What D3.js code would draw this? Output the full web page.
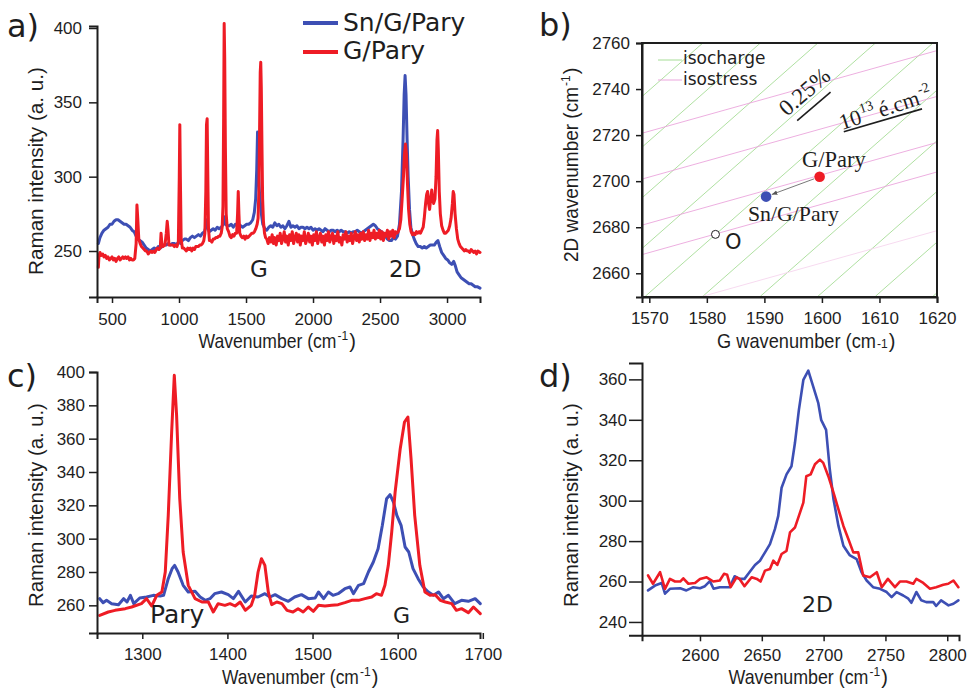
<!DOCTYPE html>
<html>
<head>
<meta charset="utf-8">
<script src="https://cdn.jsdelivr.net/npm/d3@7"></script>
<style>
body { margin: 0; background: #fff; }
svg { display: block; }
</style>
</head>
<body>
<svg id="fig" width="969" height="688"></svg>
<script>
// ---- panel a : full spectra (wavenumber, intensity)
var aBlue = [[398,255],[410,259],[425,262],[440,264],[455,265],[470,266],[485,268],[500,268],[515,270],[530,271],[545,271],[560,270],[575,269],[590,268],[605,268],[620,267],[635,266],[650,264],[665,263],[680,260],[695,258],[710,257],[725,256],[740,254],[755,252],[770,251],[785,250],[800,251],[815,252],[830,251],[845,253],[860,252],[875,253],[890,254],[905,254],[920,255],[935,254],[950,255],[965,255],[980,254],[995,256],[1005,259],[1012,255],[1025,257],[1040,258],[1055,258],[1070,257],[1085,259],[1100,260],[1115,259],[1130,260],[1145,261],[1160,260],[1175,262],[1190,263],[1200,266],[1208,271],[1215,266],[1225,263],[1240,264],[1255,265],[1270,264],[1285,266],[1300,265],[1315,266],[1330,268],[1338,273],[1346,268],[1360,267],[1375,267],[1390,268],[1405,266],[1420,268],[1435,267],[1445,268],[1460,267],[1475,266],[1490,267],[1505,268],[1520,268],[1535,269],[1550,271],[1562,276],[1572,285],[1580,305],[1586,330],[1592,305],[1600,290],[1608,282],[1616,274],[1625,268],[1640,265],[1655,264],[1670,266],[1685,267],[1700,266],[1715,269],[1730,267],[1745,268],[1760,266],[1775,267],[1790,265],[1805,267],[1820,270],[1835,266],[1850,267],[1865,266],[1880,267],[1895,265],[1910,266],[1925,266],[1940,265],[1955,266],[1970,265],[1985,266],[2000,264],[2015,265],[2030,264],[2045,265],[2060,264],[2075,263],[2090,265],[2105,264],[2120,263],[2135,264],[2150,264],[2165,263],[2180,264],[2195,263],[2210,264],[2225,263],[2240,263],[2255,262],[2270,263],[2285,262],[2300,263],[2315,263],[2330,264],[2345,263],[2360,262],[2375,263],[2390,264],[2405,265],[2420,266],[2435,267],[2450,268],[2465,267],[2480,265],[2495,264],[2510,263],[2525,262],[2540,260],[2555,258],[2570,257],[2585,257],[2600,259],[2615,258],[2630,260],[2645,268],[2660,290],[2672,325],[2680,355],[2687,368],[2694,355],[2702,325],[2710,300],[2720,278],[2730,266],[2740,262],[2755,258],[2770,255],[2785,253],[2800,253],[2815,252],[2830,253],[2845,252],[2860,253],[2875,254],[2890,254],[2905,254],[2920,256],[2932,257],[2945,253],[2960,249],[2975,247],[2990,245],[3005,244],[3020,242],[3035,241],[3050,243],[3062,240],[3075,236],[3090,234],[3105,232],[3120,231],[3135,230],[3150,229],[3165,228],[3180,228],[3195,227],[3210,226],[3225,226],[3246,225]];
var aRed = [[398,239],[403,247],[410,249],[420,247],[430,248],[440,246],[450,247],[460,245],[470,246],[480,244],[490,245],[500,246],[510,244],[520,245],[530,243],[540,245],[550,246],[560,244],[570,245],[580,246],[590,245],[600,246],[610,245],[620,246],[630,244],[640,245],[650,244],[660,244],[670,245],[680,255],[686,281],[692,272],[700,258],[710,255],[720,253],[730,252],[740,251],[750,250],[760,250],[770,248],[780,249],[790,250],[800,249],[810,250],[820,249],[830,251],[840,252],[850,251],[860,252],[866,262],[872,255],[880,253],[895,254],[905,262],[912,270],[918,264],[925,254],[935,254],[945,254],[955,254],[965,253],[975,254],[985,253],[995,256],[1002,300],[1006,335],[1010,300],[1016,258],[1025,252],[1035,252],[1045,251],[1055,250],[1065,252],[1075,251],[1085,252],[1095,250],[1105,252],[1115,251],[1125,253],[1135,253],[1145,253],[1155,254],[1165,254],[1175,255],[1185,257],[1193,262],[1200,290],[1205,335],[1210,339],[1215,300],[1220,265],[1227,257],[1235,257],[1245,256],[1255,258],[1265,258],[1275,259],[1285,259],[1295,260],[1305,260],[1315,262],[1322,266],[1328,280],[1333,340],[1337,403],[1341,380],[1346,320],[1352,275],[1360,265],[1370,263],[1380,260],[1390,259],[1400,261],[1410,260],[1420,262],[1430,262],[1437,275],[1442,290],[1447,275],[1453,262],[1463,260],[1473,259],[1483,260],[1493,258],[1503,260],[1513,259],[1523,260],[1533,261],[1543,262],[1553,262],[1563,263],[1573,265],[1583,268],[1590,272],[1596,290],[1601,330],[1606,370],[1610,377],[1614,360],[1619,320],[1624,285],[1630,270],[1638,262],[1646,259],[1655,258],[1665,255],[1675,259],[1685,256],[1695,261],[1705,255],[1715,259],[1725,254],[1735,260],[1745,257],[1755,262],[1765,255],[1775,258],[1785,263],[1795,256],[1805,260],[1815,254],[1825,261],[1835,257],[1845,263],[1855,255],[1865,259],[1875,262],[1885,256],[1895,261],[1905,254],[1915,260],[1925,257],[1935,263],[1945,255],[1955,258],[1965,262],[1975,256],[1985,260],[1995,254],[2005,261],[2015,257],[2025,263],[2035,255],[2045,259],[2055,262],[2065,256],[2075,260],[2085,254],[2095,261],[2105,257],[2115,263],[2125,256],[2135,259],[2145,262],[2155,255],[2165,260],[2175,257],[2185,263],[2195,256],[2205,259],[2215,254],[2225,261],[2235,258],[2245,263],[2255,256],[2265,260],[2275,257],[2285,262],[2295,255],[2305,259],[2315,263],[2325,257],[2335,261],[2345,256],[2355,262],[2365,258],[2375,263],[2385,257],[2395,261],[2405,258],[2415,264],[2425,257],[2435,262],[2445,259],[2455,264],[2465,258],[2475,262],[2485,259],[2495,264],[2505,258],[2515,263],[2525,257],[2535,262],[2545,260],[2555,264],[2565,258],[2575,263],[2585,260],[2595,264],[2605,259],[2615,263],[2625,262],[2635,263],[2645,265],[2655,271],[2665,285],[2675,300],[2682,315],[2690,322],[2697,315],[2705,295],[2713,278],[2722,268],[2732,263],[2742,261],[2752,262],[2762,261],[2772,263],[2782,262],[2792,263],[2802,262],[2812,264],[2822,266],[2830,272],[2840,282],[2848,288],[2855,290],[2862,282],[2870,278],[2878,285],[2886,291],[2893,285],[2900,282],[2910,285],[2918,300],[2925,325],[2930,331],[2935,318],[2942,290],[2950,275],[2960,267],[2970,264],[2980,262],[2990,262],[3000,263],[3010,264],[3020,267],[3030,272],[3040,282],[3046,290],[3052,288],[3060,275],[3070,265],[3080,258],[3090,255],[3100,253],[3110,252],[3120,251],[3130,250],[3140,251],[3150,250],[3160,250],[3170,249],[3180,251],[3190,250],[3200,249],[3210,250],[3220,248],[3230,250],[3246,249]];
var aXTicks = [500, 1000, 1500, 2000, 2500, 3000];
var aYTicks = [250, 300, 350, 400];

// ---- panel b : G vs 2D positions
var bNames = ["G/Pary", "Sn/G/Pary", "O"];
var bG = [1599.6, 1590.3, 1581.5];
var bD = [2701.9, 2693.3, 2676.9];
var isochargeG = [1519.3, 1529.3, 1539.3, 1549.3, 1559.3, 1569.3, 1579.3, 1589.3, 1599.3, 1609.3, 1619.3]; // G at 2D = 2650
var isostressD = [2721.7, 2701.8, 2681.8, 2669.0]; // 2D at G = 1570
var isostressFaint = [2643.5];
var strainSeg = [[1595.7, 2726.3], [1601.5, 2738.7]];
var dopingSeg = [[1603.8, 2721.5], [1617.4, 2731.4]];
var bXTicks = [1570, 1580, 1590, 1600, 1610, 1620];
var bYTicks = [2660, 2680, 2700, 2720, 2740, 2760];

// ---- panel c : Pary + G region
var cBlue = [[1250,264],[1254,261.6],[1258,263],[1264,261],[1272,260.4],[1278,264],[1282,262],[1286,266],[1290,261],[1297,264.4],[1305,265],[1313,266],[1321,265.6],[1325,266],[1330.5,276],[1335,282],[1338,284],[1342,280],[1348,272],[1354,268],[1362,268.4],[1368,265],[1374,263],[1379.5,264],[1385,267],[1393,268],[1401,266.4],[1407,264],[1413,268.4],[1421,262],[1428,265.6],[1436,265],[1444,267],[1450,265],[1456,266.4],[1464,264],[1471.5,262.4],[1479,265],[1487,266.4],[1495,264],[1503,264.4],[1507,268],[1513,264],[1518.6,268],[1524,266],[1530,267],[1538,270],[1544,271],[1548,267],[1554,272],[1560,273],[1565.6,280],[1571.4,286],[1577,294],[1582,308],[1587,324],[1591,326.4],[1595,322],[1599,314],[1604,308],[1608.7,295],[1613,292],[1618,282],[1624,276],[1630,271],[1636,268],[1642,266],[1648,268],[1653.7,264],[1659.6,266],[1667,261],[1675,263],[1683,262.4],[1691,264],[1697,261]];
var cRed = [[1250,254],[1260,256],[1268,257],[1280,258],[1287.5,259],[1299,261],[1305,264],[1311,259.6],[1317,266],[1323,268],[1327,280],[1330.5,314],[1334.5,364],[1337.6,398],[1340.3,374],[1344,324],[1348,292],[1354,272],[1362,264],[1370,262],[1377.6,262],[1383.4,256],[1389,261],[1397,260],[1403,261],[1409,259.6],[1415,262],[1421,257],[1428,260],[1432,266],[1436,280],[1440,288],[1444,284],[1448,268],[1452,260.4],[1458,262],[1464,261],[1470,257],[1477,256],[1483,258],[1489,256],[1495,259],[1501,256.4],[1507,260],[1514.6,259.6],[1522.5,260],[1530,260.4],[1538,261.6],[1546,263],[1554,263],[1561.6,264],[1569.5,265],[1575,267],[1581,266],[1585,272],[1589,284],[1593,304],[1597,328],[1603,354],[1608,370],[1612,373],[1615.7,348],[1620,314],[1626,284],[1632,268],[1638,266],[1644,266.4],[1650,263],[1656,262],[1663.5,261],[1669,257],[1675,258],[1683,255.6],[1689,259],[1697,255]];
var cXTicks = [1300, 1400, 1500, 1600, 1700];
var cYTicks = [260, 280, 300, 320, 340, 360, 380, 400];

// ---- panel d : 2D region
var dBlue = [[2558,255.6],[2563.6,258],[2569,259.3],[2571.7,254],[2575.7,256.4],[2584,256.7],[2589,255.6],[2594.6,257.2],[2600,256.7],[2604,257.7],[2608,260.2],[2611,256.4],[2616,257.2],[2624,257.2],[2628,262.6],[2632,261.3],[2636,261.3],[2640,264.6],[2644.5,268.2],[2648.5,270.3],[2652.6,274.4],[2656.6,278.5],[2660.6,285.9],[2663.3,292.5],[2666,306.4],[2670,313],[2674,317],[2676.8,328.5],[2680,344.9],[2683.6,359.7],[2687.6,364.3],[2691.6,356.4],[2695.7,348.2],[2698,340],[2702,335],[2705,315.4],[2708,300.7],[2712,287.5],[2716,277.7],[2721,273.1],[2726.7,271.1],[2730.7,264.6],[2734.8,260.5],[2740,257.2],[2745.6,256.4],[2751,254.8],[2755,252.3],[2759,254.8],[2764.4,253.1],[2768.5,251.5],[2771,249.5],[2775,254.8],[2779,250.7],[2783,249.8],[2788.7,249.8],[2791,247.9],[2795,250.7],[2801,248.2],[2805,249],[2809,250.7]];
var dRed = [[2558,263],[2562,258.9],[2567.7,264.6],[2571.7,256.4],[2575.7,261.3],[2579.8,260],[2584,260],[2586.5,261.6],[2590.6,258.9],[2596,259.3],[2600,261.3],[2605.4,262.1],[2610.8,260],[2616,260.5],[2619.4,263.8],[2622,263.3],[2624.8,257.2],[2629.6,262.1],[2632,261.3],[2636,257.7],[2641.8,262.1],[2646,261.3],[2649,260],[2652.6,265.4],[2656.6,266.2],[2659.3,270.3],[2662.5,268.2],[2666,273.6],[2670,275.2],[2672.8,284.3],[2676.8,286.7],[2680,292.5],[2683.6,299],[2686,312.1],[2689.5,313],[2693,318],[2697,320.3],[2699.7,318.7],[2703.8,312.1],[2708,304],[2712,295.7],[2716,287.5],[2720,281],[2724,274.4],[2728,274.4],[2732,263],[2737.5,262.1],[2743,264.6],[2747,257.2],[2752,261.3],[2757.7,257.2],[2761.7,260],[2767,260],[2772.5,258.9],[2775,261.3],[2780.6,259.3],[2786,256.4],[2791,257.2],[2796.8,258.4],[2800.8,258.9],[2805,260.5],[2809,257.2]];
var dXTicks = [2600, 2650, 2700, 2750, 2800];
var dYTicks = [240, 260, 280, 300, 320, 340, 360];

var BLUE = "#3d4fb4", RED = "#ee1c25", INK = "#1e1e1e";
var svg = d3.select("#fig");

function styleAxis(g, fs) {
    g.select(".domain").attr("stroke", INK).attr("stroke-width", 2);
    g.selectAll(".tick line").attr("stroke", INK).attr("stroke-width", 1.5);
    g.selectAll(".tick text").attr("fill", INK).attr("font-size", fs)
        .attr("font-family", "Liberation Sans, Arial, sans-serif");
}

function axes(x, y, xt, yt, o) {
    var gx = svg.append("g").attr("transform", "translate(0," + y.range()[0] + ")")
        .call(d3.axisBottom(x).tickValues(xt).tickFormat(d3.format("d"))
            .tickSizeOuter(0).tickSize(o.xs).tickPadding(o.xp));
    styleAxis(gx, 17);
    var gy = svg.append("g").attr("transform", "translate(" + x.range()[0] + ",0)")
        .call(d3.axisLeft(y).tickValues(yt).tickFormat(d3.format("d"))
            .tickSizeOuter(0).tickSize(o.ys).tickPadding(o.yp));
    styleAxis(gy, 17);
}

function spectrum(x, y, data, color, w) {
    var line = d3.line().x(function(d){ return x(d[0]); }).y(function(d){ return y(d[1]); });
    svg.append("path").datum(data).attr("d", line).attr("fill", "none")
        .attr("stroke", color).attr("stroke-width", w)
        .attr("stroke-linejoin", "round").attr("stroke-linecap", "round");
}

function label(txt, x, y, size, fam, anchor) {
    return svg.append("text").attr("x", x).attr("y", y).attr("font-size", size)
        .attr("font-family", fam || "DejaVu Sans").attr("fill", INK)
        .attr("text-anchor", anchor || "start").text(txt);
}

// axis title: horizontally squeezed main part, then a small exponent and ")"
function title(pre, sup, x, y, len, rot, lowSup) {
    var g = svg.append("g").attr("font-family", "Liberation Sans").attr("fill", INK)
        .attr("transform", "translate(" + x + "," + y + ")" + (rot ? " rotate(-90)" : ""));
    var x0 = -len / 2, tail = sup ? 19 : 0;
    var m = g.append("text").attr("font-size", 20).text(pre);
    var k = (len - tail) / m.node().getComputedTextLength();
    m.attr("transform", "translate(" + x0 + ",0) scale(" + k + ",1)");
    if (!sup) return;
    var s = g.append("text").attr("x", x0 + len - tail + 1).attr("y", lowSup ? 0 : -8)
        .attr("font-size", 12).text(sup);
    var sw = s.node().getComputedTextLength();
    g.append("text").attr("x", x0 + len - tail + 2 + sw).attr("font-size", 20)
        .attr("transform", "scale(1,1)").text(")");
}

// ================= panel a
var xa = d3.scaleLinear().domain([388, 3246]).range([97, 480]);
var ya = d3.scaleLinear().domain([219.06, 401.35]).range([297, 26]);
spectrum(xa, ya, aBlue, BLUE, 3);
spectrum(xa, ya, aRed, RED, 3);
axes(xa, ya, aXTicks, aYTicks, {xs: 6, xp: 10, ys: 8, yp: 7});
label("a)", 7, 37, 32);
label("G", 250, 277, 23);
label("2D", 389, 277, 23);
svg.append("line").attr("x1", 303).attr("x2", 338).attr("y1", 23).attr("y2", 23).attr("stroke", BLUE).attr("stroke-width", 4);
svg.append("line").attr("x1", 303).attr("x2", 338).attr("y1", 52).attr("y2", 52).attr("stroke", RED).attr("stroke-width", 4);
label("Sn/G/Pary", 343, 31, 25);
label("G/Pary", 343, 59, 25);
title("Wavenumber (cm", "-1", 277, 348, 157, false);
title("Raman intensity (a. u.)", "", 43, 171, 208, true);

// ================= panel b
var xb = d3.scaleLinear().domain([1568.73, 1620]).range([642, 937]);
var yb = d3.scaleLinear().domain([2649.7, 2760]).range([297, 43]);
svg.append("clipPath").attr("id", "bclip").append("rect")
    .attr("x", 642).attr("y", 43).attr("width", 295).attr("height", 254);
var lines = svg.append("g").attr("clip-path", "url(#bclip)");
isochargeG.forEach(function(g0) {
    lines.append("line").attr("x1", xb(g0)).attr("y1", yb(2650))
        .attr("x2", xb(g0 + 110 / 2.2)).attr("y2", yb(2760))
        .attr("stroke", "#a6dd96").attr("stroke-width", 0.9);
});
isostressD.forEach(function(d0) {
    lines.append("line").attr("x1", xb(1568)).attr("y1", yb(d0 - 0.7 * 2))
        .attr("x2", xb(1621)).attr("y2", yb(d0 + 0.7 * 51))
        .attr("stroke", "#eba6dd").attr("stroke-width", 0.9);
});
isostressFaint.forEach(function(d0) {
    lines.append("line").attr("x1", xb(1568)).attr("y1", yb(d0 - 0.7 * 2))
        .attr("x2", xb(1621)).attr("y2", yb(d0 + 0.7 * 51))
        .attr("stroke", "#f6d6ee").attr("stroke-width", 0.9);
});
svg.append("rect").attr("x", 642).attr("y", 43).attr("width", 295).attr("height", 254)
    .attr("fill", "none").attr("stroke", INK).attr("stroke-width", 2);
axes(xb, yb, bXTicks, bYTicks, {xs: 6, xp: 9, ys: 6, yp: 6});
label("b)", 539, 36, 32);

// legend
svg.append("line").attr("x1", 658).attr("x2", 682).attr("y1", 60).attr("y2", 60).attr("stroke", "#a6dd96").attr("stroke-width", 1);
svg.append("line").attr("x1", 658).attr("x2", 682).attr("y1", 80).attr("y2", 80).attr("stroke", "#eba6dd").attr("stroke-width", 1);
label("isocharge", 683, 64, 17);
label("isostress", 683, 85, 17);

// scale segments
[strainSeg, dopingSeg].forEach(function(s) {
    svg.append("line").attr("x1", xb(s[0][0])).attr("y1", yb(s[0][1]))
        .attr("x2", xb(s[1][0])).attr("y2", yb(s[1][1]))
        .attr("stroke", INK).attr("stroke-width", 1.6);
});
svg.append("text").attr("transform", "translate(787,117) rotate(-41)")
    .attr("font-family", "Liberation Serif").attr("font-size", 23).attr("fill", INK).text("0.25%");
var dop = svg.append("g").attr("transform", "translate(842,130) rotate(-18)")
    .attr("font-family", "Liberation Serif").attr("fill", INK);
var t10 = dop.append("text").attr("font-size", 22).text("10");
var p1 = t10.node().getComputedTextLength() + 1;
var t13 = dop.append("text").attr("x", p1).attr("y", -10).attr("font-size", 14).text("13");
var p2 = p1 + t13.node().getComputedTextLength() + 4;
var tcm = dop.append("text").attr("x", p2).attr("font-size", 22).text("é.cm");
dop.append("text").attr("x", p2 + tcm.node().getComputedTextLength() + 1).attr("y", -10)
    .attr("font-size", 14).text("-2");

// arrow red -> blue
svg.append("defs").append("marker").attr("id", "arr").attr("viewBox", "0 0 10 10")
    .attr("refX", 10).attr("refY", 5).attr("markerWidth", 7).attr("markerHeight", 7)
    .attr("orient", "auto").append("path").attr("d", "M0,1 L10,5 L0,9 z").attr("fill", "#555");
var ax0 = xb(bG[0]), ay0 = yb(bD[0]), ax1 = xb(bG[1]), ay1 = yb(bD[1]);
var len = Math.hypot(ax1 - ax0, ay1 - ay0), ux = (ax1 - ax0) / len, uy = (ay1 - ay0) / len;
svg.append("line").attr("x1", ax0 + ux * 6).attr("y1", ay0 + uy * 6)
    .attr("x2", ax1 - ux * 6).attr("y2", ay1 - uy * 6)
    .attr("stroke", "#555").attr("stroke-width", 0.8).attr("marker-end", "url(#arr)");

svg.append("circle").attr("cx", xb(bG[0])).attr("cy", yb(bD[0])).attr("r", 5.3).attr("fill", RED);
svg.append("circle").attr("cx", xb(bG[1])).attr("cy", yb(bD[1])).attr("r", 5.3).attr("fill", BLUE);
svg.append("circle").attr("cx", xb(bG[2])).attr("cy", yb(bD[2])).attr("r", 4).attr("fill", "#fff")
    .attr("stroke", INK).attr("stroke-width", 1);
label(bNames[0], 802, 167, 22.5, "Liberation Serif");
label(bNames[1], 748, 221, 21.8, "Liberation Serif");
label(bNames[2], 725, 249, 21);
title("G  wavenumber (cm", "-1", 806, 348, 178, false, true);
title("2D wavenumber (cm", "-1", 578, 165, 194, true);

// ================= panel c
var xc = d3.scaleLinear().domain([1246.8, 1696.7]).range([97, 480]);
var yc = d3.scaleLinear().domain([243.4, 400]).range([633, 372]);
spectrum(xc, yc, cBlue, BLUE, 3);
spectrum(xc, yc, cRed, RED, 3);
axes(xc, yc, cXTicks, cYTicks, {xs: 6, xp: 9, ys: 8, yp: 4});
label("c)", 7, 387, 32);
label("Pary", 150, 623, 25);
label("G", 393, 623, 22);
title("Wavenumber (cm", "-1", 300, 684, 156, false);
title("Raman intensity (a. u.)", "", 43, 505, 204, true);

// ================= panel d
var xd = d3.scaleLinear().domain([2553.1, 2809.5]).range([642, 959]);
var yd = d3.scaleLinear().domain([233.4, 368.1]).range([635.3, 363]);
spectrum(xd, yd, dBlue, BLUE, 2.6);
spectrum(xd, yd, dRed, RED, 2.6);
axes(xd, yd, dXTicks, dYTicks, {xs: 6, xp: 8, ys: 13, yp: 2});
label("d)", 539, 387, 32);
label("2D", 802, 612, 22);
title("Wavenumber (cm", "-1", 808, 683.5, 159, false);
title("Raman intensity (a. u.)", "", 578, 505, 204, true);
</script>
</body>
</html>
